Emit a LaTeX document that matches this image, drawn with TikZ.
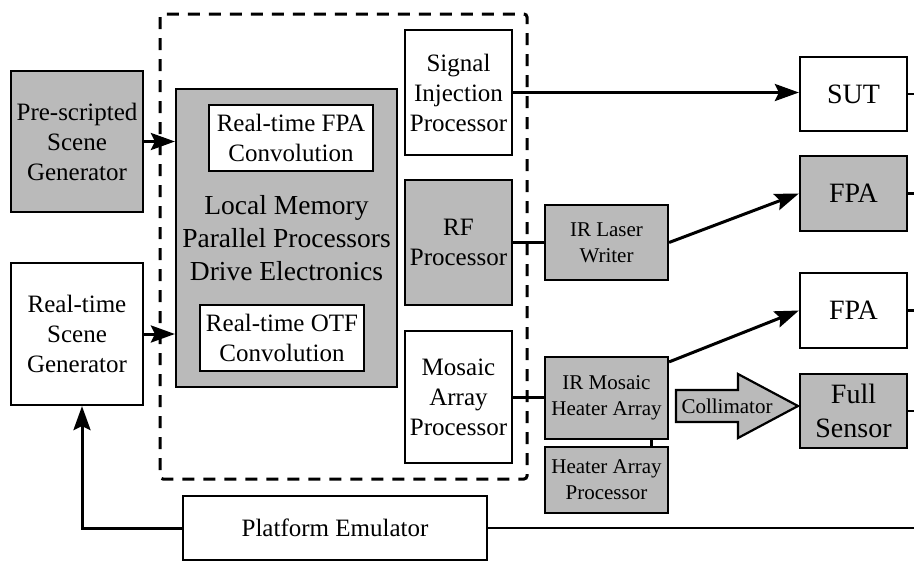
\documentclass[tikz,border=0pt]{standalone}
\usepackage{fontspec}
\setmainfont{Liberation Serif}
\usetikzlibrary{arrows.meta, calc}

\begin{document}
\begin{tikzpicture}[x=1pt, y=-1pt]
% Styles
\tikzstyle{process} = [rectangle, draw=black, line width=2.2pt, fill=white, text centered, align=center, inner sep=0pt, font=\fontsize{25}{30}\selectfont]
\tikzstyle{shaded} = [process, fill=black!27]
\tikzstyle{small} = [font=\fontsize{21}{26}\selectfont]
\tikzstyle{large} = [font=\fontsize{28}{34}\selectfont]
\tikzstyle{arrow} = [line width=3pt, -{Stealth[length=24pt,width=17pt,inset=4pt]}]
\tikzstyle{line} = [line width=3pt]

\useasboundingbox (0,0) rectangle (914,562);

% Dashed frame round the processors
\draw [line width=3pt, dash pattern=on 12pt off 9pt, rounded corners=3pt] (160,14) rectangle (527,479);

% Nodes
\node (presc) [shaded, minimum width=132pt, minimum height=141pt] at (77,141.5) {Pre-scripted\\Scene\\Generator};
\node (rtsg) [process, minimum width=132pt, minimum height=142pt] at (77,334) {Real-time\\Scene\\Generator};
\node (lm) [shaded, minimum width=221pt, minimum height=298pt, font=\fontsize{27.5}{33}\selectfont] at (286.5,238) {Local Memory\\Parallel Processors\\Drive Electronics};
\node (fpaconv) [process, minimum width=164pt, minimum height=66pt] at (291,138) {Real-time FPA\\Convolution};
\node (otfconv) [process, minimum width=164pt, minimum height=66pt] at (282,338) {Real-time OTF\\Convolution};
\node (sip) [process, minimum width=107pt, minimum height=125pt] at (458.5,92.5) {Signal\\Injection\\Processor};
\node (rfp) [shaded, minimum width=107pt, minimum height=125pt] at (458.5,242.5) {RF\\Processor};
\node (map) [process, minimum width=107pt, minimum height=132pt] at (458.5,397) {Mosaic\\Array\\Processor};
\node (irlw) [shaded, small, minimum width=123pt, minimum height=75pt] at (606.5,242.5) {IR Laser\\Writer};
\node (irmh) [shaded, small, minimum width=123pt, minimum height=82pt] at (606.5,398) {IR Mosaic\\Heater Array};
\node (hap) [shaded, small, minimum width=123pt, minimum height=66pt] at (606.5,480) {Heater Array\\Processor};
\node (sut) [process, large, minimum width=107pt, minimum height=74pt] at (853.5,94) {SUT};
\node (fpaa) [shaded, large, minimum width=107pt, minimum height=75pt] at (853.5,193.5) {FPA};
\node (fpab) [process, large, minimum width=107pt, minimum height=75pt] at (853.5,310.5) {FPA};
\node (full) [shaded, large, minimum width=107pt, minimum height=74pt] at (853.5,411) {Full\\Sensor};
\node (pe) [process, minimum width=304pt, minimum height=64pt] at (335,528) {Platform Emulator};

% Collimator block arrow
\draw [line width=2.2pt, fill=black!27] (676,390) -- (738,390) -- (738,374) -- (798,406) -- (738,438) -- (738,422) -- (676,422) -- cycle;
\node (colli) [small, inner sep=0pt] at (727,406) {Collimator};

% Arrows
\coordinate (edge) at (914,0);
\draw [arrow] (presc.east) -- (presc.east -| lm.west);
\draw [arrow] (rtsg.east) -- (rtsg.east -| lm.west);
\draw [arrow] (sip.east) -- (sip.east -| sut.west);
\draw [line] (rfp) -- (irlw);
\draw [arrow] (irlw.east) -- (fpaa.west);
\draw [line] (map.east) -- (map.east -| irmh.west);
\draw [arrow] ([yshift=-6pt]irmh.north east) -- (fpab.west);
\draw [line, line width=2.2pt] ([xshift=45pt]irmh.south) -- ([xshift=45pt]hap.north);
\draw [arrow] (pe.west) -| ([xshift=5pt]rtsg.south);

% Outputs running off to the right
\draw [line, line width=2.6pt] (pe.east) -- (pe.east -| edge);
\draw [line, line width=2.2pt] (sut.east) -- (sut.east -| edge);
\draw [line, line width=2.2pt] (fpaa.east) -- (fpaa.east -| edge);
\draw [line, line width=2.2pt] (fpab.east) -- (fpab.east -| edge);
\draw [line, line width=2.2pt] (full.east) -- (full.east -| edge);
\end{tikzpicture}
\end{document}
